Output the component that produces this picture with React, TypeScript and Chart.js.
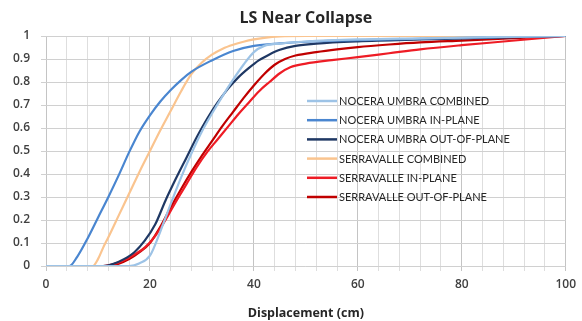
import React, { useEffect, useRef } from "react";
import { Chart, registerables } from "chart.js";

Chart.register(...registerables);

// Fragility curves: displacement (cm) vs probability of exceedance
const noceraCombinedX = [0, 16, 18, 20, 22, 24, 26, 28, 30, 32, 34, 36, 38, 40, 42, 45, 50, 60, 72, 85, 100];
const noceraCombinedY = [0, 0, 0.012, 0.045, 0.15, 0.27, 0.385, 0.49, 0.585, 0.665, 0.74, 0.81, 0.875, 0.93, 0.957, 0.967, 0.976, 0.985, 0.99, 0.995, 1];

const noceraInPlaneX = [0, 4.5, 6, 8, 10, 12, 14, 16, 18, 20, 22, 24, 26, 28, 32, 36, 40, 45, 50, 60, 72, 85, 100];
const noceraInPlaneY = [0, 0, 0.04, 0.12, 0.21, 0.3, 0.395, 0.495, 0.585, 0.655, 0.715, 0.765, 0.808, 0.845, 0.895, 0.935, 0.957, 0.968, 0.975, 0.982, 0.988, 0.994, 1];

const noceraOutX = [0, 11, 13, 15, 17, 19, 21, 23, 25, 27, 29, 31, 33, 35, 37, 39, 41, 43, 45, 48, 52, 60, 72, 85, 100];
const noceraOutY = [0, 0, 0.01, 0.03, 0.06, 0.11, 0.18, 0.285, 0.38, 0.47, 0.56, 0.64, 0.71, 0.77, 0.82, 0.86, 0.895, 0.92, 0.94, 0.957, 0.967, 0.977, 0.985, 0.992, 1];

const serravalleCombinedX = [0, 9, 10, 11, 12, 14, 16, 18, 20, 22, 24, 26, 28, 30, 32, 34, 36, 38, 40, 42, 45, 50, 100];
const serravalleCombinedY = [0, 0, 0.03, 0.08, 0.125, 0.22, 0.315, 0.41, 0.5, 0.59, 0.675, 0.76, 0.835, 0.885, 0.92, 0.945, 0.962, 0.975, 0.985, 0.992, 0.998, 1, 1];

const serravalleInPlaneX = [0, 11, 13, 15, 17, 19, 21, 23, 25, 27, 29, 31, 33, 35, 37, 39, 41, 43, 45, 47, 50, 55, 60, 66, 72, 80, 88, 100];
const serravalleInPlaneY = [0, 0, 0.008, 0.025, 0.05, 0.08, 0.13, 0.2, 0.28, 0.355, 0.43, 0.495, 0.55, 0.605, 0.66, 0.71, 0.76, 0.8, 0.838, 0.864, 0.88, 0.895, 0.908, 0.925, 0.942, 0.96, 0.976, 1];

const serravalleOutX = [0, 12, 14, 16, 18, 20, 22, 24, 26, 28, 30, 32, 34, 36, 38, 40, 42, 44, 46, 48, 52, 56, 60, 66, 72, 80, 88, 100];
const serravalleOutY = [0, 0, 0.01, 0.03, 0.06, 0.1, 0.17, 0.255, 0.335, 0.41, 0.48, 0.545, 0.61, 0.67, 0.73, 0.785, 0.835, 0.875, 0.9, 0.915, 0.93, 0.942, 0.952, 0.963, 0.972, 0.98, 0.988, 1];

const seriesLabels = [
  "NOCERA UMBRA COMBINED",
  "NOCERA UMBRA IN-PLANE",
  "NOCERA UMBRA OUT-OF-PLANE",
  "SERRAVALLE COMBINED",
  "SERRAVALLE IN-PLANE",
  "SERRAVALLE OUT-OF-PLANE",
];
const seriesColors = ["#9dc3e6", "#4a86d0", "#1f3864", "#fac48f", "#ee1c25", "#c00000"];

const xTickLabels = [0, 20, 40, 60, 80, 100];
const yTickLabels = ["0", "0.1", "0.2", "0.3", "0.4", "0.5", "0.6", "0.7", "0.8", "0.9", "1"];

const toPoints = (xs: number[], ys: number[]) => xs.map((x, i) => ({ x, y: ys[i] }));

const seriesData = [
  toPoints(noceraCombinedX, noceraCombinedY),
  toPoints(noceraInPlaneX, noceraInPlaneY),
  toPoints(noceraOutX, noceraOutY),
  toPoints(serravalleCombinedX, serravalleCombinedY),
  toPoints(serravalleInPlaneX, serravalleInPlaneY),
  toPoints(serravalleOutX, serravalleOutY),
];

// Title and in-plot legend drawn directly on the canvas
const overlayPlugin = {
  id: "overlay",
  afterDatasetsDraw(chart: any) {
    const { ctx, chartArea } = chart;
    ctx.save();
    // legend inside the plot area
    const lx = chartArea.left + 261;
    const ly = chartArea.top + 65;
    const gap = 19.2;
    ctx.font = "11px Lato";
    ctx.textBaseline = "middle";
    ctx.textAlign = "left";
    chart.data.datasets.forEach((ds: any, i: number) => {
      const y = ly + i * gap;
      ctx.strokeStyle = ds.borderColor;
      ctx.lineWidth = 2.5;
      ctx.beginPath();
      ctx.moveTo(lx, y);
      ctx.lineTo(lx + 30, y);
      ctx.stroke();
      ctx.fillStyle = "#262626";
      ctx.fillText(ds.label, lx + 32, y + 0.5);
    });
    // chart title
    ctx.font = "bold 16px 'Open Sans'";
    ctx.fillStyle = "#262626";
    ctx.textAlign = "center";
    ctx.fillText("LS Near Collapse", (chartArea.left + chartArea.right) / 2, 18);
    ctx.restore();
  },
};

export default function App() {
  const canvasRef = useRef<HTMLCanvasElement | null>(null);

  useEffect(() => {
    document.body.style.margin = "0";
    const canvas = canvasRef.current;
    if (!canvas) return;
    const chart = new Chart(canvas, {
      type: "line",
      data: {
        datasets: seriesLabels.map((label, i) => ({
          label,
          data: seriesData[i],
          borderColor: seriesColors[i],
          backgroundColor: seriesColors[i],
          borderWidth: 2.2,
          pointRadius: 0,
          cubicInterpolationMode: "monotone" as const,
          fill: false,
        })),
      },
      options: {
        responsive: false,
        animation: false,
        events: [],
        layout: { padding: { top: 36, right: 15, left: 0, bottom: 0 } },
        plugins: {
          legend: { display: false },
          title: { display: false },
          tooltip: { enabled: false },
        },
        scales: {
          x: {
            type: "linear",
            min: 0,
            max: 100,
            afterBuildTicks: (scale: any) => {
              const t = [];
              for (let v = 0; v <= 100; v += 4) t.push({ value: v });
              scale.ticks = t;
            },
            afterFit: (scale: any) => {
              scale.height = 55;
            },
            ticks: {
              autoSkip: false,
              maxRotation: 0,
              padding: 6,
              color: "#404040",
              font: { family: "Open Sans", size: 12, weight: "600" },
              callback: (v: any) => (xTickLabels.includes(Number(v)) ? String(v) : ""),
            },
            grid: {
              color: (c: any) => (c.tick && c.tick.value % 20 === 0 ? "#c4c4c4" : "#dedede"),
              lineWidth: 1,
              tickLength: 5,
            },
            border: { display: false },
            title: {
              display: true,
              text: "Displacement (cm)",
              color: "#262626",
              font: { family: "Open Sans", size: 12.5, weight: "bold" },
              padding: { top: 6, bottom: 0 },
            },
          },
          y: {
            type: "linear",
            min: 0,
            max: 1,
            afterBuildTicks: (scale: any) => {
              scale.ticks = yTickLabels.map((s) => ({ value: Number(s) }));
            },
            afterFit: (scale: any) => {
              scale.width = 46;
            },
            ticks: {
              padding: 11,
              color: "#404040",
              font: { family: "Open Sans", size: 12, weight: "600" },
              callback: (v: any) => yTickLabels[Math.round(Number(v) * 10)],
            },
            grid: { color: "#d0d0d0", lineWidth: 1, tickLength: 5 },
            border: { display: false },
          },
        },
      },
      plugins: [overlayPlugin],
    });
    return () => chart.destroy();
  }, []);

  return (
    <div style={{ width: 582, height: 321, overflow: "hidden", background: "#fff" }}>
      <canvas ref={canvasRef} width={582} height={321} style={{ display: "block" }} />
    </div>
  );
}
